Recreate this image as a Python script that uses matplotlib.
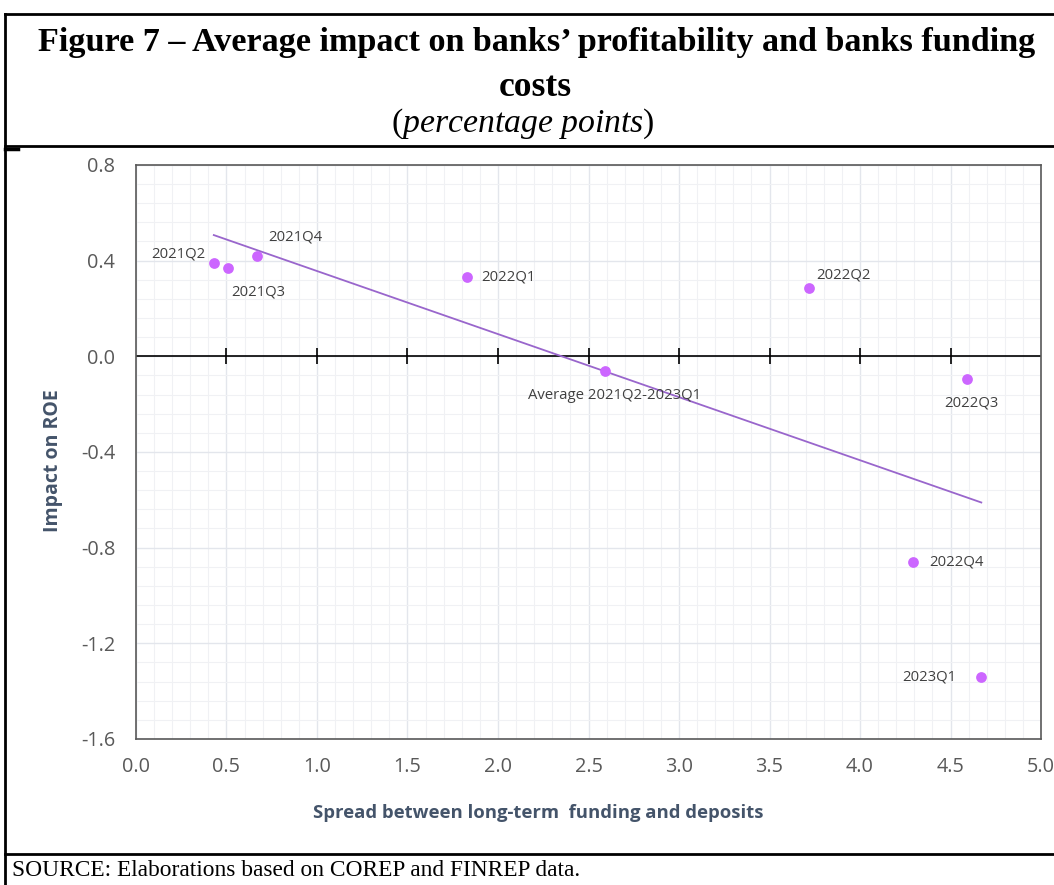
import numpy as np
import matplotlib
matplotlib.use("Agg")
import matplotlib.pyplot as plt
from matplotlib.lines import Line2D
from matplotlib.ticker import MultipleLocator

plt.rcParams['mathtext.fontset'] = 'custom'
plt.rcParams['mathtext.rm'] = 'Liberation Serif'
plt.rcParams['mathtext.it'] = 'Liberation Serif:italic'

# data
quarters = ["2021Q2", "2021Q3", "2021Q4", "2022Q1", "2022Q2",
            "2022Q3", "2022Q4", "2023Q1"]
spread = [0.43, 0.51, 0.67, 1.83, 3.72, 4.59, 4.29, 4.67]
roe = [0.39, 0.37, 0.42, 0.33, 0.285, -0.096, -0.86, -1.34]

avg_label = "Average 2021Q2-2023Q1"
avg_spread = np.mean(spread)
avg_roe = np.mean(roe)

xticks = np.arange(0, 5.01, 0.5)
yticks = np.arange(-1.6, 0.81, 0.4)

# label offsets in points (dx, dy, ha, va)
offsets = {
    "2021Q2": (-6, 1, 'right', 'bottom'),
    "2021Q3": (2, -12, 'left', 'top'),
    "2021Q4": (8, 8, 'left', 'bottom'),
    "2022Q1": (10, 0, 'left', 'center'),
    "2022Q2": (5, 4, 'left', 'bottom'),
    "2022Q3": (-16, -12, 'left', 'top'),
    "2022Q4": (12, 0, 'left', 'center'),
    "2023Q1": (-18, 0, 'right', 'center'),
}

dot = '#CC66FF'
trend_c = '#9966CC'
lab_c = '#404040'
axis_lab_c = '#44546A'
tick_c = '#595959'

fig = plt.figure(figsize=(10.54, 8.85), dpi=100)
ax = fig.add_axes([0.129, 0.165, 0.8587, 0.6487])

ax.set_xlim(0, 5)
ax.set_ylim(-1.6, 0.8)
ax.set_xticks(xticks)
ax.set_yticks(yticks)
ax.xaxis.set_minor_locator(MultipleLocator(0.1))
ax.yaxis.set_minor_locator(MultipleLocator(0.08))
ax.grid(which='major', color='#E3E6EC', lw=1.0)
ax.grid(which='minor', color='#F0F1F4', lw=0.8)
ax.set_axisbelow(True)
ax.tick_params(which='both', length=0)
ax.tick_params(axis='x', pad=13)
ax.tick_params(axis='y', pad=15)


def fmt(v):
    return f"{abs(v):.1f}" if abs(v) < 1e-9 else f"{v:.1f}"


ax.set_xticklabels([fmt(v) for v in xticks], fontsize=14.3, color=tick_c,
                   family='Open Sans')
ax.set_yticklabels([fmt(v) for v in yticks], fontsize=14.3, color=tick_c,
                   family='Open Sans')
for s in ax.spines.values():
    s.set_color('#595959')
    s.set_linewidth(1.2)

# horizontal axis drawn at y = 0 with crossing ticks
ax.axhline(0, color='black', lw=1.2, zorder=2)
ax.plot(xticks[1:-1], np.zeros(len(xticks) - 2), ls='none', marker='|',
        ms=11, mew=1.2, color='black', zorder=2)

# linear trend
all_x = np.array(spread)
all_y = np.array(roe)
slope, icpt = np.polyfit(all_x, all_y, 1)
tx = np.array([all_x.min(), all_x.max()])
ax.plot(tx, slope * tx + icpt, color=trend_c, lw=1.3, zorder=3)

ax.scatter(spread + [avg_spread], roe + [avg_roe], s=60, color=dot,
           zorder=4, linewidths=0)

for q, x, y in zip(quarters, spread, roe):
    dx, dy, ha, va = offsets[q]
    ax.annotate(q, (x, y), xytext=(dx, dy), textcoords='offset points',
                ha=ha, va=va, fontsize=10.7, color=lab_c, family='Open Sans')
ax.annotate(avg_label, (avg_spread, avg_roe), xytext=(-55, -12),
            textcoords='offset points', ha='left', va='top', fontsize=10.7,
            color=lab_c, family='Open Sans')

ax.set_xlabel("Spread between long-term  funding and deposits", fontsize=13.3,
              fontweight='bold', color=axis_lab_c, family='Open Sans')
ax.xaxis.set_label_coords(0.444, -0.1125)
ax.set_ylabel("Impact on ROE", fontsize=14, fontweight='bold',
              color=axis_lab_c, family='Open Sans')
ax.yaxis.set_label_coords(-0.081, 0.485)

# titles
fig.text(0.509, 1 - 42 / 885, "Figure 7 – Average impact on banks’ profitability and banks funding",
         ha='center', va='center', fontsize=24.6, fontweight='bold',
         family='Liberation Serif')
fig.text(0.508, 1 - 87 / 885, "costs", ha='center', va='center',
         fontsize=25.5, fontweight='bold', family='Liberation Serif')
fig.text(0.496, 1 - 124 / 885, r"($\mathit{percentage\ points}$)",
         ha='center', va='center', fontsize=24.3, family='Liberation Serif')
fig.text(12 / 1054, 1 - 870 / 885,
         "SOURCE: Elaborations based on COREP and FINREP data.",
         ha='left', va='center', fontsize=16.8, family='Liberation Serif')

# frame lines of the figure box
def hline(y, x0, x1, lw=2):
    fig.add_artist(Line2D([x0 / 1054, x1 / 1054], [1 - y / 885, 1 - y / 885],
                          color='black', lw=lw))

def vline(x, y0, y1, lw=2):
    fig.add_artist(Line2D([x / 1054, x / 1054], [1 - y0 / 885, 1 - y1 / 885],
                          color='black', lw=lw))

hline(14, 5, 1054)
hline(146, 5, 1054)
hline(148.5, 5, 18, lw=2.5)
hline(854, 5, 1054)
vline(5, 14, 885)

fig.savefig("out.png", dpi=100)
